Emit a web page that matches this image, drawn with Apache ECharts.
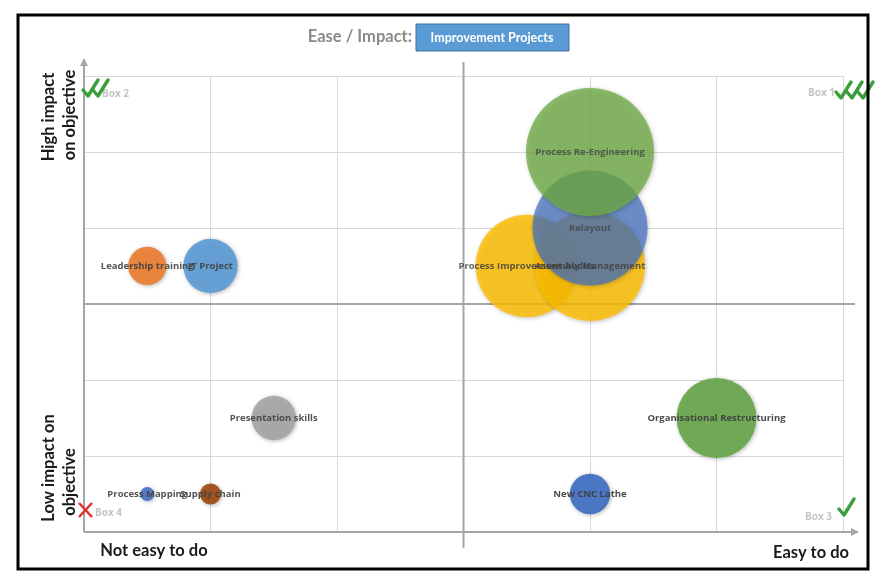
<!DOCTYPE html>
<html><head><meta charset="utf-8">
<script src="https://cdn.jsdelivr.net/npm/echarts@6/dist/echarts.min.js"></script>
<style>html,body{margin:0;padding:0;background:#fff}#c{width:892px;height:586px}</style>
</head><body><div id="c"></div>
<script>
// ---- data ----
const projects = ['Leadership training','IT Project','Presentation skills','Process Mapping','Supply chain','New CNC Lathe','Organisational Restructuring','Process Improvement Audits','Assembly Management','Relayout','Process Re-Engineering'];
const ease     = [0.5, 1, 1.5, 0.5, 1, 4, 5, 3.5, 4, 4, 4];
const impact   = [3.5, 3.5, 1.5, 0.5, 0.5, 0.5, 1.5, 3.5, 3.5, 4, 5];
const bubbleSize = [9, 18, 12, 1.2, 2.7, 10, 39, 64, 74, 81, 100];
const colors = ['#ED7D31','#5B9BD5','#A5A5A5','#4472C4','#9E480E','#4472C4','#6AA84F','#FFC000','#FFC000','#4472C4','#70AD47'];
const opac   = [0.9,0.9,0.9,0.9,0.9,0.95,0.95,0.82,0.82,0.72,0.78];
const axisTicks = [0,1,2,3,4,5,6];

const FONT = 'Lato, "Open Sans", sans-serif';
const LFONT = '"Open Sans", sans-serif';
const chart = echarts.init(document.getElementById('c'));
const data = projects.map((n,i)=>({
  name:n, value:[ease[i], impact[i], bubbleSize[i]],
  itemStyle:{color:colors[i], opacity:opac[i]}
}));
chart.setOption({
  animation:false,
  grid:{left:84,right:49,top:76,bottom:54},
  xAxis:{type:'value',min:axisTicks[0],max:axisTicks[axisTicks.length-1],interval:1,
    axisLine:{show:false},axisTick:{show:false},axisLabel:{show:false},
    splitLine:{lineStyle:{color:'#d9d9d9',width:1}}},
  yAxis:{type:'value',min:axisTicks[0],max:axisTicks[axisTicks.length-1],interval:1,
    axisLine:{show:false},axisTick:{show:false},axisLabel:{show:false},
    splitLine:{lineStyle:{color:'#d9d9d9',width:1}}},
  series:[{
    type:'scatter', z:5,
    data:data,
    symbolSize:v=>12.8*Math.sqrt(v[2]),
    itemStyle:{shadowBlur:4,shadowColor:'rgba(0,0,0,0.3)',shadowOffsetX:1,shadowOffsetY:1},
    label:{show:true,position:'inside',formatter:p=>p.name,color:'#404040',
      fontFamily:LFONT,fontSize:9.5,fontWeight:'bold'},
    emphasis:{disabled:true}
  }]
});

// ---- decorations via scale ----
const px = (x,y)=>chart.convertToPixel({gridIndex:0},[x,y]);
const p00 = px(0,0), p66 = px(6,6), pc = px(3,3);
const L = p00[0], B = p00[1], R = p66[0], T = p66[1], CX = pc[0], CY = pc[1];
const axisCol = '#a6a6a6';
function line(x1,y1,x2,y2,c,w){return {type:'line',z:3,shape:{x1,y1,x2,y2},style:{stroke:c,lineWidth:w}};}
function tri(points,c){return {type:'polygon',z:3,shape:{points},style:{fill:c}};}
function check(x,y,c){return {type:'polyline',z:20,shape:{points:[[x,y+7],[x+5,y+13],[x+15,y-3]]},style:{stroke:c,lineWidth:3.4,fill:null,lineJoin:'round',lineCap:'round'}};}
function txt(x,y,t,o){return Object.assign({type:'text',z:20,x,y,style:Object.assign({text:t,fontFamily:FONT},o)});}
const g = [];
// axes
g.push(line(L,B,L,T-14,axisCol,2));
g.push(tri([[L-4,T-10],[L+4,T-10],[L,T-18]],axisCol));
g.push(line(L,B,R+10,B,axisCol,2));
g.push(tri([[R+8,B-4],[R+8,B+4],[R+16,B]],axisCol));
g.push(line(CX,T-14,CX,B+16,axisCol,2));
g.push(line(L,CY,R+12,CY,axisCol,2));
// box labels
const boxStyle={fill:'#c4c4c4',fontSize:10,fontWeight:'bold',fontFamily:LFONT};
g.push(txt(L+18,T+18,'Box 2',Object.assign({align:'left',verticalAlign:'middle'},boxStyle)));
g.push(txt(R-8,T+17,'Box 1',Object.assign({align:'right',verticalAlign:'middle'},boxStyle)));
g.push(txt(R-11,B-15,'Box 3',Object.assign({align:'right',verticalAlign:'middle'},boxStyle)));
g.push(txt(L+11,B-19,'Box 4',Object.assign({align:'left',verticalAlign:'middle'},boxStyle)));
// checks / cross
const green='#3a9e3a';
g.push(check(L-1,T+7,green)); g.push(check(L+9,T+7,green));
g.push(check(R-7,T+9,green)); g.push(check(R+4,T+9,green)); g.push(check(R+15,T+9,green));
g.push(check(R-4,B-30,green));
g.push(line(L-5,B-29,L+8,B-15,'#e03030',2.5));
g.push(line(L-5,B-15,L+8,B-29,'#e03030',2.5));
// axis titles
const nameStyle={fill:'#1a1a1a',fontSize:16.5,fontWeight:'bold',align:'center',verticalAlign:'middle'};
g.push(Object.assign(txt(49,117,'High impact',nameStyle),{rotation:Math.PI/2}));
g.push(Object.assign(txt(70,115,'on objective',nameStyle),{rotation:Math.PI/2}));
g.push(Object.assign(txt(49,468,'Low impact on',nameStyle),{rotation:Math.PI/2}));
g.push(Object.assign(txt(70,482,'objective',nameStyle),{rotation:Math.PI/2}));
g.push(txt(154,551,'Not easy to do',Object.assign({},nameStyle)));
g.push(txt(849,553,'Easy to do',Object.assign({},nameStyle,{align:'right'})));
// title
g.push(txt(412,37,'Ease / Impact:',{fill:'#8a8a8a',fontSize:16.5,fontWeight:'bold',align:'right',verticalAlign:'middle'}));
g.push({type:'rect',z:20,shape:{x:416,y:24,width:153,height:27},style:{fill:'#5B9BD5',stroke:'#41719C',lineWidth:1}});
g.push(txt(492,37.5,'Improvement Projects',{fill:'#ffffff',fontSize:12.5,fontWeight:'bold',align:'center',verticalAlign:'middle'}));
// frame
g.push({type:'rect',z:30,shape:{x:18,y:15,width:850,height:554},style:{fill:null,stroke:'#000',lineWidth:3}});
chart.setOption({graphic:{elements:g}});
</script></body></html>
